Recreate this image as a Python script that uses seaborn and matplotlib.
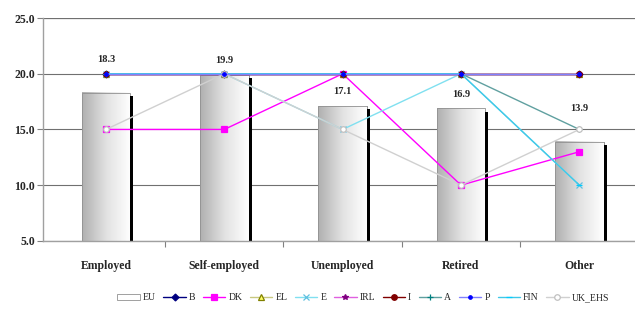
import numpy as np
import seaborn as sns
import matplotlib
matplotlib.use("Agg")
import matplotlib.pyplot as plt
from matplotlib.patches import Rectangle
from matplotlib.colors import LinearSegmentedColormap

# data
categories = ["Employed", "Self-employed", "Unemployed", "Retired", "Other"]
eu = [18.3, 19.9, 17.1, 16.9, 13.9]

b = [20, 20, 20, 20, 20]
dk = [15, 15, 20, 10, 13]
el = [20, 20, 20, 20, 20]
e = [20, 20, 15, 20, 10]
irl = [20, 20, 20, 20, 20]
i_ = [20, 20, 20, 20, 20]
a = [20, 20, 20, 20, 15]
p = [20, 20, 20, 20, 20]
fin = [20, 20, 20, 20, 10]
uk_ehs = [15, 20, 15, 10, 15]

series_names = ["B", "DK", "EL", "E", "IRL", "I", "A", "P", "FIN", "UK_EHS"]
series_values = [b, dk, el, e, irl, i_, a, p, fin, uk_ehs]

# styles: (line colour, marker, marker face, marker edge, marker size)
styles = {
    "B": ("#000080", "D", "#000080", "#000080", 3.5),
    "DK": ("#ff00ff", "s", "#ff00ff", "#ff00ff", 4),
    "EL": ("#c8c880", "^", "#ffff66", "#808000", 4),
    "E": ("#80e0f0", "x", "#80e0f0", "#60c0e0", 4),
    "IRL": ("#e060e0", "*", "#800080", "#800080", 4),
    "I": ("#800000", "o", "#800000", "#800000", 4),
    "A": ("#60a0a0", "+", "#008080", "#008080", 4),
    "P": ("#8080ff", "o", "#0000ff", "#0000ff", 2.5),
    "FIN": ("#40c8e8", "_", "#00ccff", "#00ccff", 5),
    "UK_EHS": ("#d0d0d0", "o", "#ffffff", "#c0c0c0", 4),
}

sns.set_theme(style="white")
plt.rcParams["font.family"] = ["Liberation Serif", "DejaVu Serif"]

fig = plt.figure(figsize=(6.35, 3.22), dpi=100)
ax = fig.add_axes([0.068, 0.252, 0.932, 0.692])

x = np.arange(len(categories))
sns.barplot(x=x, y=eu, ax=ax, width=0.41, color="white", edgecolor="#909090",
            linewidth=0.6, zorder=2, native_scale=True, label="EU")

ymin = 5
ax.set_ylim(ymin, 25)

# gradient fill + right-side shadow on each bar
cmap = LinearSegmentedColormap.from_list("bar", ["#b0b0b0", "#e2e2e2", "#ffffff"])
grad = np.linspace(0, 1, 64).reshape(1, -1)
for patch in list(ax.patches):
    bx, by = patch.get_x(), patch.get_y()
    bw, bh = patch.get_width(), patch.get_height()
    top = by + bh
    ax.imshow(grad, cmap=cmap, aspect="auto", extent=(bx, bx + bw, ymin, top),
              zorder=2.1, interpolation="bicubic")
    ax.add_patch(Rectangle((bx, ymin), bw, top - ymin, fill=False, edgecolor="#909090",
                           lw=0.6, zorder=2.15))
    ax.add_patch(Rectangle((bx + bw, ymin), 0.025, top - ymin - 0.3, color="black",
                           zorder=2.2, lw=0))

for name, vals in zip(series_names, series_values):
    lc, mk, mf, me, ms = styles[name]
    sns.lineplot(x=x, y=vals, ax=ax, color=lc, lw=1.0, marker=mk, markersize=ms,
                 markerfacecolor=mf, markeredgecolor=me, markeredgewidth=0.9,
                 zorder=3.5 if name == "P" else 3, label=name)

# value labels above bars
offsets = [21, 7, 7, 7, 21]
for xi, v, off in zip(x, eu, offsets):
    ax.annotate(f"{v:.1f}", (xi, v), xytext=(0, off), textcoords="offset points",
                ha="center", va="bottom", fontsize=7.5, fontweight="bold", zorder=4)

ax.set_ylim(ymin, 25)
ax.set_xlim(-0.53, 4.47)
ax.set_yticks([5, 10, 15, 20, 25])
ax.set_yticklabels([f"{t:.1f}" for t in [5, 10, 15, 20, 25]], fontsize=8.5, fontweight="bold")
ax.set_xticks(x)
ax.set_xticklabels(categories, fontsize=8.5, fontweight="bold")
ax.tick_params(axis="x", length=0, pad=14)
ax.tick_params(axis="y", length=4, width=0.8, color="#808080", direction="out", pad=2, left=True)
ax.set_xticks(x[:-1] + 0.5, minor=True)
ax.tick_params(axis="x", which="minor", length=4, width=0.8, color="#808080", direction="out", bottom=True)

ax.yaxis.grid(True, color="#707070", lw=0.8, zorder=0)
ax.set_axisbelow(True)
for side in ["top", "right"]:
    ax.spines[side].set_visible(False)
ax.spines["left"].set_color("#a0a0a0")
ax.spines["bottom"].set_color("#a0a0a0")
ax.spines["left"].set_linewidth(1.0)
ax.spines["bottom"].set_linewidth(1.0)
ax.axhline(25, color="#c8c8c8", lw=1.0, zorder=0)

handles, labels = ax.get_legend_handles_labels()
ax.get_legend().remove()
order = [labels.index("EU")] + [labels.index(n) for n in series_names]
handles = [handles[k] for k in order]
labels = [labels[k] for k in order]
fig.legend(handles, labels, loc="center", bbox_to_anchor=(0.572, 0.075), ncol=11,
           frameon=False, fontsize=7, handlelength=2.3, handletextpad=0.3,
           columnspacing=0.8)

fig.savefig("out.png", dpi=100)
